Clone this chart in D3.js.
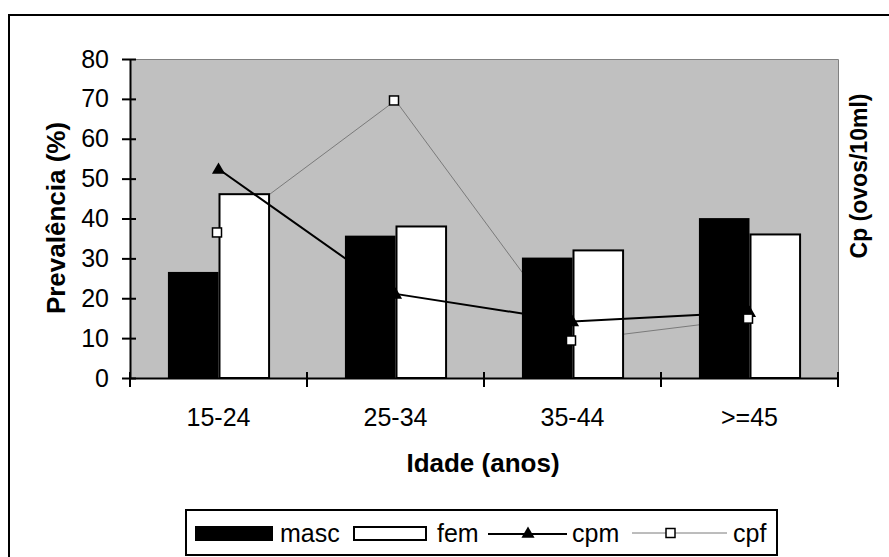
<!DOCTYPE html>
<html>
<head>
<meta charset="utf-8">
<script src="https://cdn.jsdelivr.net/npm/d3@7"></script>
<style>
  body { margin: 0; background: #fff; }
  text { font-family: "Liberation Sans", Arial, sans-serif; fill: #000; }
</style>
</head>
<body>
<div id="chart"></div>
<script>
// data
var categories = ["15-24", "25-34", "35-44", ">=45"];
var masc = [26.6, 35.7, 30.2, 40.1];
var fem = [46.1, 38.0, 32.0, 36.0];
var cpm = [52.4, 21.1, 14.2, 16.5];
var cpf = [36.5, 69.6, 9.4, 14.9];
var yTicks = [0, 10, 20, 30, 40, 50, 60, 70, 80];

var W = 889, H = 557;
var plot = {left: 130, right: 838, top: 59, bottom: 378};

var svg = d3.select("#chart").append("svg")
  .attr("width", W)
  .attr("height", H);

// outer frame (cut off at right/bottom like the source)
svg.append("rect")
  .attr("x", 9).attr("y", 15)
  .attr("width", 900).attr("height", 600)
  .attr("fill", "#fff")
  .attr("stroke", "#000")
  .attr("stroke-width", 2);

//-- scales --//
var x = d3.scaleBand()
  .domain(categories)
  .range([plot.left, plot.right]);

var y = d3.scaleLinear()
  .domain([0, 80])
  .range([plot.bottom, plot.top]);

// secondary axis (no labels shown in the source)
var y2 = d3.scaleLinear()
  .domain([0, 80])
  .range([plot.bottom, plot.top]);

var barW = x.bandwidth() / 3.5;
var cx = function(d) { return x(d) + x.bandwidth() / 2; };

// plot area
svg.append("rect")
  .attr("x", plot.left).attr("y", plot.top)
  .attr("width", plot.right - plot.left)
  .attr("height", plot.bottom - plot.top)
  .attr("fill", "#c0c0c0");

svg.append("path")
  .attr("d", "M" + plot.left + "," + (plot.top + 0.5) + "H" + (plot.right + 0.5) + "V" + plot.bottom)
  .attr("fill", "none")
  .attr("stroke", "#808080")
  .attr("stroke-width", 1);

// cpf line sits behind the bars
var lineCpf = d3.line()
  .x(function(d, i) { return cx(categories[i]); })
  .y(function(d) { return y2(d); });

svg.append("path")
  .datum(cpf)
  .attr("d", lineCpf)
  .attr("fill", "none")
  .attr("stroke", "#7a7a7a")
  .attr("stroke-width", 1);

// bars
svg.selectAll(".masc").data(masc).enter()
  .append("rect")
  .attr("class", "masc")
  .attr("x", function(d, i) { return cx(categories[i]) - barW; })
  .attr("y", function(d) { return y(d); })
  .attr("width", barW)
  .attr("height", function(d) { return y(0) - y(d); })
  .attr("fill", "#000");

svg.selectAll(".fem").data(fem).enter()
  .append("rect")
  .attr("class", "fem")
  .attr("x", function(d, i) { return cx(categories[i]) + 1; })
  .attr("y", function(d) { return y(d); })
  .attr("width", barW - 1)
  .attr("height", function(d) { return y(0) - y(d); })
  .attr("fill", "#fff")
  .attr("stroke", "#000")
  .attr("stroke-width", 2);

// cpm line + triangles
var lineCpm = d3.line()
  .x(function(d, i) { return cx(categories[i]); })
  .y(function(d) { return y2(d); });

svg.append("path")
  .datum(cpm)
  .attr("d", lineCpm)
  .attr("fill", "none")
  .attr("stroke", "#000")
  .attr("stroke-width", 2);

var tri = d3.symbol().type(d3.symbolTriangle).size(75);

svg.selectAll(".tri").data(cpm).enter()
  .append("path")
  .attr("class", "tri")
  .attr("d", tri)
  .attr("transform", function(d, i) { return "translate(" + cx(categories[i]) + "," + (y2(d) + 1) + ")"; })
  .attr("fill", "#000");

// cpf squares on top
svg.selectAll(".sq").data(cpf).enter()
  .append("rect")
  .attr("class", "sq")
  .attr("x", function(d, i) { return cx(categories[i]) - 6; })
  .attr("y", function(d) { return y2(d) - 4.5; })
  .attr("width", 9)
  .attr("height", 9)
  .attr("fill", "#fff")
  .attr("stroke", "#000")
  .attr("stroke-width", 1.5);

//-- axes --//
var yAxis = d3.axisLeft(y)
  .tickValues(yTicks)
  .tickSizeInner(8)
  .tickSizeOuter(0)
  .tickPadding(13);

var gy = svg.append("g")
  .attr("transform", "translate(" + plot.left + ",0)")
  .call(yAxis);
gy.select(".domain").attr("stroke-width", 2);
gy.selectAll(".tick line").attr("stroke-width", 2).attr("x2", 6).attr("x1", -8);
gy.selectAll(".tick text").style("font-size", "25px").attr("font-family", null);

var xAxis = d3.axisBottom(x)
  .tickSize(0)
  .tickPadding(30);

var gx = svg.append("g")
  .attr("transform", "translate(0," + plot.bottom + ")")
  .call(xAxis);
gx.select(".domain").attr("stroke-width", 2);
gx.selectAll(".tick text").style("font-size", "25px").attr("font-family", null);

// tick marks between the categories
var bounds = categories.map(function(c) { return x(c); }).concat([plot.right]);
gx.selectAll(".sep").data(bounds).enter()
  .append("line")
  .attr("class", "sep")
  .attr("x1", function(d) { return d; })
  .attr("x2", function(d) { return d; })
  .attr("y1", -6)
  .attr("y2", 9)
  .attr("stroke", "#000")
  .attr("stroke-width", 2);

// axis titles
svg.append("text")
  .attr("transform", "translate(65,218) rotate(-90)")
  .attr("text-anchor", "middle")
  .style("font-size", "26px")
  .style("font-weight", "bold")
  .text("Prevalência (%)");

svg.append("text")
  .attr("transform", "translate(867,176) rotate(-90)")
  .attr("text-anchor", "middle")
  .style("font-size", "23px")
  .style("font-weight", "bold")
  .text("Cp (ovos/10ml)");

svg.append("text")
  .attr("x", 483).attr("y", 472)
  .attr("text-anchor", "middle")
  .style("font-size", "26px")
  .style("font-weight", "bold")
  .text("Idade (anos)");

//-- legend --//
var leg = svg.append("g");
leg.append("rect")
  .attr("x", 186).attr("y", 510)
  .attr("width", 591).attr("height", 45)
  .attr("fill", "#fff")
  .attr("stroke", "#000")
  .attr("stroke-width", 2);

var ly = 533;
leg.append("rect").attr("x", 195).attr("y", 526).attr("width", 78).attr("height", 15).attr("fill", "#000");
leg.append("text").attr("x", 280).attr("y", ly + 9).style("font-size", "25px").text("masc");
leg.append("rect").attr("x", 354).attr("y", 527).attr("width", 72).attr("height", 13)
  .attr("fill", "#fff").attr("stroke", "#000").attr("stroke-width", 2);
leg.append("text").attr("x", 437).attr("y", ly + 9).style("font-size", "25px").text("fem");
leg.append("line").attr("x1", 488).attr("x2", 567).attr("y1", ly + 1).attr("y2", ly + 1)
  .attr("stroke", "#000").attr("stroke-width", 2);
leg.append("path").attr("d", tri).attr("transform", "translate(528," + (ly + 1) + ")").attr("fill", "#000");
leg.append("text").attr("x", 572).attr("y", ly + 9).style("font-size", "25px").text("cpm");
leg.append("line").attr("x1", 632).attr("x2", 727).attr("y1", ly).attr("y2", ly)
  .attr("stroke", "#7a7a7a").attr("stroke-width", 1);
leg.append("rect").attr("x", 666).attr("y", ly - 4.5).attr("width", 9).attr("height", 9)
  .attr("fill", "#fff").attr("stroke", "#000").attr("stroke-width", 1.5);
leg.append("text").attr("x", 733).attr("y", ly + 9).style("font-size", "25px").text("cpf");
</script>
</body>
</html>
